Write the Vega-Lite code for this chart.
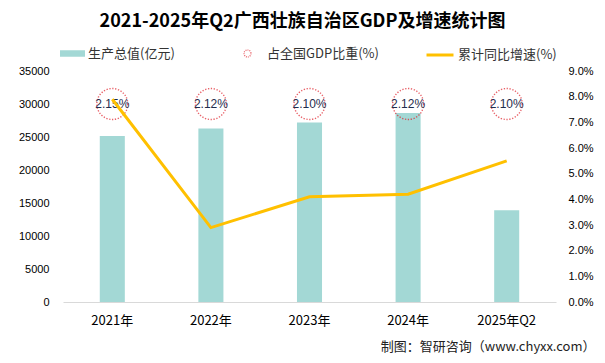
{
  "$schema": "https://vega.github.io/schema/vega-lite/v6.json",
  "autosize": "none",
  "width": 493,
  "height": 231,
  "padding": {"left": 63, "top": 71, "right": 49, "bottom": 61},
  "background": "#ffffff",
  "title": {
    "text": "2021-2025年Q2广西壮族自治区GDP及增速统计图",
    "font": "Noto Sans CJK SC",
    "fontSize": 18,
    "fontWeight": "bold",
    "color": "#000000",
    "anchor": "middle",
    "frame": "group",
    "dx": -7,
    "offset": 9
  },
  "data": {
    "values": [
      {"year": "2021年", "gdp": 25150, "growth": 7.9, "share": "2.15%"},
      {"year": "2022年", "gdp": 26300, "growth": 2.9, "share": "2.12%"},
      {"year": "2023年", "gdp": 27202, "growth": 4.1, "share": "2.10%"},
      {"year": "2024年", "gdp": 28649, "growth": 4.2, "share": "2.12%"},
      {"year": "2025年Q2", "gdp": 13900, "growth": 5.5, "share": "2.10%"}
    ]
  },
  "encoding": {
    "x": {
      "field": "year",
      "type": "nominal",
      "sort": null,
      "scale": {"paddingInner": 0.746, "paddingOuter": 0.373},
      "axis": {
        "title": "制图：智研咨询（www.chyxx.com）",
        "titleFont": "Noto Sans CJK SC",
        "titleFontSize": 13,
        "titleFontWeight": "normal",
        "titleColor": "#222222",
        "titleAnchor": "end",
        "titleAlign": "right",
        "titleBaseline": "middle",
        "titleX": 532,
        "titleY": 44,
        "labelAngle": 0,
        "labelFont": "Noto Sans CJK SC",
        "labelFontSize": 13,
        "labelColor": "#000000",
        "labelPadding": 12,
        "ticks": false,
        "domainColor": "#d9d9d9",
        "domainWidth": 1,
        "grid": false
      }
    }
  },
  "layer": [
    {
      "mark": {"type": "bar", "color": "#a3d8d5"},
      "encoding": {
        "y": {
          "field": "gdp",
          "type": "quantitative",
          "scale": {"domain": [0, 35000]},
          "axis": {
            "orient": "left",
            "title": null,
            "values": [0, 5000, 10000, 15000, 20000, 25000, 30000, 35000],
            "format": "d",
            "labelOverlap": false,
            "grid": false,
            "domain": false,
            "ticks": false,
            "labelPadding": 14,
            "labelFont": "Liberation Sans",
            "labelFontSize": 11,
            "labelColor": "#000000"
          }
        },
        "fill": {
          "datum": "生产总值(亿元)",
          "scale": {"range": ["#a3d8d5"]},
          "legend": {
            "title": null,
            "orient": "none",
            "legendX": -3,
            "legendY": -30,
            "padding": 0,
            "symbolType": "M-1,-0.26H1V0.26H-1Z",
            "symbolSize": 625,
            "symbolStrokeWidth": 0,
            "labelOffset": 3,
            "labelFont": "Noto Sans CJK SC",
            "labelFontSize": 13,
            "labelColor": "#333333"
          }
        }
      }
    },
    {
      "mark": {"type": "point", "filled": false, "stroke": "#e0202a", "strokeWidth": 1.4, "strokeDash": [1.3, 1.6], "size": 961},
      "encoding": {
        "y": {"datum": 30000, "type": "quantitative", "scale": {"domain": [0, 35000]}, "axis": null},
        "shape": {
          "datum": "占全国GDP比重(%)",
          "scale": {"range": ["circle"]},
          "legend": {
            "title": null,
            "orient": "none",
            "legendX": 178,
            "legendY": -24,
            "padding": 0,
            "symbolSize": 49,
            "symbolFillColor": "transparent",
            "symbolStrokeColor": "#e0202a",
            "symbolStrokeWidth": 1.2,
            "symbolDash": [1, 1],
            "labelOffset": 13,
            "labelFont": "Noto Sans CJK SC",
            "labelFontSize": 13,
            "labelColor": "#333333"
          }
        }
      }
    },
    {
      "mark": {"type": "text", "font": "Liberation Sans", "fontSize": 12, "color": "#1f2d4d", "baseline": "middle", "align": "center"},
      "encoding": {
        "y": {"datum": 30000, "type": "quantitative", "scale": {"domain": [0, 35000]}, "axis": null},
        "text": {"field": "share"}
      }
    },
    {
      "mark": {"type": "line", "strokeWidth": 3, "color": "#ffc000"},
      "encoding": {
        "y": {
          "field": "growth",
          "type": "quantitative",
          "scale": {"domain": [0, 9]},
          "axis": {
            "orient": "right",
            "title": null,
            "values": [0, 1, 2, 3, 4, 5, 6, 7, 8, 9],
            "labelExpr": "format(datum.value, '.1f') + '%'",
            "labelOverlap": false,
            "grid": false,
            "domain": false,
            "ticks": false,
            "labelPadding": 12,
            "labelFont": "Liberation Sans",
            "labelFontSize": 11,
            "labelColor": "#000000"
          }
        },
        "stroke": {
          "datum": "累计同比增速(%)",
          "scale": {"range": ["#ffc000"]},
          "legend": {
            "title": null,
            "orient": "none",
            "legendX": 362,
            "legendY": -31,
            "padding": 0,
            "symbolType": "stroke",
            "symbolSize": 729,
            "symbolStrokeWidth": 3,
            "labelOffset": 3,
            "labelFont": "Noto Sans CJK SC",
            "labelFontSize": 13,
            "labelColor": "#333333"
          }
        }
      }
    }
  ],
  "resolve": {"scale": {"y": "independent"}},
  "config": {
    "view": {"stroke": null},
    "legend": {"padding": 0}
  }
}
